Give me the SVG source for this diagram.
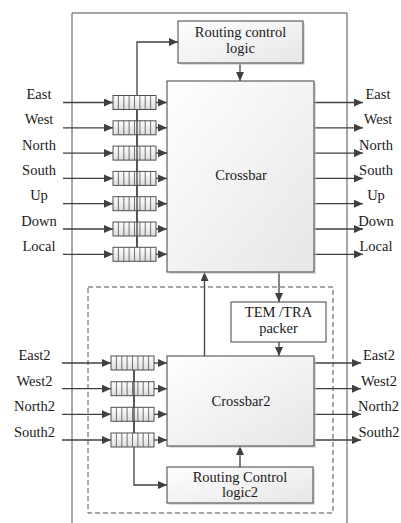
<svg xmlns="http://www.w3.org/2000/svg" width="401" height="523" viewBox="0 0 401 523">
<defs>
<linearGradient id="g" x1="0" y1="0" x2="1" y2="1">
<stop offset="0" stop-color="#ffffff"/>
<stop offset="1" stop-color="#e6e6e6"/>
</linearGradient>
<linearGradient id="gb" x1="0" y1="0" x2="0" y2="1">
<stop offset="0" stop-color="#ffffff"/>
<stop offset="1" stop-color="#dcdcdc"/>
</linearGradient>
<marker id="ah" markerUnits="userSpaceOnUse" markerWidth="10" markerHeight="8" refX="9" refY="4" orient="auto">
<path d="M0,0 L9,4 L0,8 Z" fill="#404040"/>
</marker>
<g id="buf">
<rect x="0" y="-7" width="43" height="14" fill="url(#gb)" stroke="#505050" stroke-width="1"/>
<path d="M5.4,-7V7M10.8,-7V7M16.1,-7V7M21.5,-7V7M26.9,-7V7M32.2,-7V7M37.6,-7V7" stroke="#505050" stroke-width="0.8"/>
</g>
</defs>
<style>
.t{font-family:'Liberation Serif','Times New Roman',serif;font-size:14.5px;fill:#1a1a1a;text-anchor:middle}
.box{fill:url(#g);stroke:#404040;stroke-width:1}
.sh{fill:#c8c8c8;opacity:0.6}
.ln{stroke:#404040;stroke-width:1.3;fill:none}
.ar{stroke:#404040;stroke-width:1.3;fill:none;marker-end:url(#ah)}
.fr{stroke:#505050;stroke-width:1;fill:none}
.da{stroke:#505050;stroke-width:1;fill:none;stroke-dasharray:5,3}
</style>
<rect width="401" height="523" fill="#ffffff"/>

<g id="frame">
<path class="fr" d="M72,523V13H347V523"/>
<rect class="da" x="88" y="287" width="245" height="226"/>
</g>

<g id="connectors">
<line class="ar" x1="63" y1="102.5" x2="113" y2="102.5"/>
<line class="ar" x1="63" y1="127.8" x2="113" y2="127.8"/>
<line class="ar" x1="63" y1="153.1" x2="113" y2="153.1"/>
<line class="ar" x1="63" y1="178.4" x2="113" y2="178.4"/>
<line class="ar" x1="63" y1="203.7" x2="113" y2="203.7"/>
<line class="ar" x1="63" y1="229" x2="113" y2="229"/>
<line class="ar" x1="63" y1="254.3" x2="113" y2="254.3"/>
<line class="ar" x1="156" y1="102.5" x2="167" y2="102.5"/>
<line class="ar" x1="156" y1="127.8" x2="167" y2="127.8"/>
<line class="ar" x1="156" y1="153.1" x2="167" y2="153.1"/>
<line class="ar" x1="156" y1="178.4" x2="167" y2="178.4"/>
<line class="ar" x1="156" y1="203.7" x2="167" y2="203.7"/>
<line class="ar" x1="156" y1="229" x2="167" y2="229"/>
<line class="ar" x1="156" y1="254.3" x2="167" y2="254.3"/>
<path class="ar" d="M137,247V42H178"/>
<line class="ar" x1="240" y1="63" x2="240" y2="81"/>
<line class="ar" x1="314" y1="102.5" x2="363" y2="102.5"/>
<line class="ar" x1="314" y1="127.8" x2="363" y2="127.8"/>
<line class="ar" x1="314" y1="153.1" x2="363" y2="153.1"/>
<line class="ar" x1="314" y1="178.4" x2="363" y2="178.4"/>
<line class="ar" x1="314" y1="203.7" x2="363" y2="203.7"/>
<line class="ar" x1="314" y1="229" x2="363" y2="229"/>
<line class="ar" x1="314" y1="254.3" x2="363" y2="254.3"/>
<line class="ar" x1="204.5" y1="356" x2="204.5" y2="272"/>
<line class="ar" x1="279" y1="272" x2="279" y2="302"/>
<line class="ar" x1="279" y1="342" x2="279" y2="356"/>
<line class="ar" x1="62" y1="363" x2="111" y2="363"/>
<line class="ar" x1="62" y1="388.7" x2="111" y2="388.7"/>
<line class="ar" x1="62" y1="414.3" x2="111" y2="414.3"/>
<line class="ar" x1="62" y1="440" x2="111" y2="440"/>
<line class="ar" x1="154" y1="363" x2="167" y2="363"/>
<line class="ar" x1="154" y1="388.7" x2="167" y2="388.7"/>
<line class="ar" x1="154" y1="414.3" x2="167" y2="414.3"/>
<line class="ar" x1="154" y1="440" x2="167" y2="440"/>
<path class="ar" d="M134,370V485H167"/>
<line class="ar" x1="240" y1="467" x2="240" y2="446"/>
<line class="ar" x1="314" y1="363" x2="361" y2="363"/>
<line class="ar" x1="314" y1="388.7" x2="361" y2="388.7"/>
<line class="ar" x1="314" y1="414.3" x2="361" y2="414.3"/>
<line class="ar" x1="314" y1="440" x2="361" y2="440"/>
</g>

<g id="buffers">
<use href="#buf" x="113" y="102.5"/>
<use href="#buf" x="113" y="127.8"/>
<use href="#buf" x="113" y="153.1"/>
<use href="#buf" x="113" y="178.4"/>
<use href="#buf" x="113" y="203.7"/>
<use href="#buf" x="113" y="229"/>
<use href="#buf" x="113" y="254.3"/>
<use href="#buf" x="111" y="363"/>
<use href="#buf" x="111" y="388.7"/>
<use href="#buf" x="111" y="414.3"/>
<use href="#buf" x="111" y="440"/>
<line class="ln" x1="137" y1="110" x2="137" y2="247" stroke-width="1"/>
<line class="ln" x1="134" y1="370" x2="134" y2="433" stroke-width="1"/>
</g>

<g id="routing">
<rect class="sh" x="180" y="23" width="125" height="42"/>
<rect class="box" x="178" y="21" width="125" height="42"/>
<text class="t" x="240.5" y="37">Routing control</text>
<text class="t" x="240.5" y="53">logic</text>
</g>

<g id="crossbar">
<rect class="sh" x="169" y="83" width="147" height="191"/>
<rect class="box" x="167" y="81" width="147" height="191"/>
<text class="t" x="241" y="180">Crossbar</text>
</g>

<g id="packer">
<rect x="231" y="302" width="95" height="40" fill="#ffffff" stroke="#404040" stroke-width="1"/>
<text class="t" x="278.5" y="317">TEM /TRA</text>
<text class="t" x="278.5" y="333">packer</text>
</g>

<g id="crossbar2">
<rect class="sh" x="169" y="358" width="147" height="90"/>
<rect class="box" x="167" y="356" width="147" height="90"/>
<text class="t" x="241" y="406">Crossbar2</text>
</g>

<g id="routing2">
<rect class="sh" x="169" y="469" width="146" height="36"/>
<rect class="box" x="167" y="467" width="146" height="36"/>
<text class="t" x="240" y="482">Routing Control</text>
<text class="t" x="240" y="497">logic2</text>
</g>

<g id="labels">
<text class="t" x="39" y="99">East</text>
<text class="t" x="39" y="124.3">West</text>
<text class="t" x="39" y="149.6">North</text>
<text class="t" x="39" y="174.9">South</text>
<text class="t" x="39" y="200.2">Up</text>
<text class="t" x="39" y="225.5">Down</text>
<text class="t" x="39" y="250.8">Local</text>
<text class="t" x="378" y="99">East</text>
<text class="t" x="378" y="124.3">West</text>
<text class="t" x="376" y="149.6">North</text>
<text class="t" x="376" y="174.9">South</text>
<text class="t" x="376" y="200.2">Up</text>
<text class="t" x="376" y="225.5">Down</text>
<text class="t" x="376" y="250.8">Local</text>
<text class="t" x="34.5" y="360">East2</text>
<text class="t" x="34.5" y="385.7">West2</text>
<text class="t" x="34.5" y="411.3">North2</text>
<text class="t" x="34.5" y="437">South2</text>
<text class="t" x="379" y="360">East2</text>
<text class="t" x="379" y="385.7">West2</text>
<text class="t" x="378.5" y="411.3">North2</text>
<text class="t" x="379" y="437">South2</text>
</g>
</svg>
